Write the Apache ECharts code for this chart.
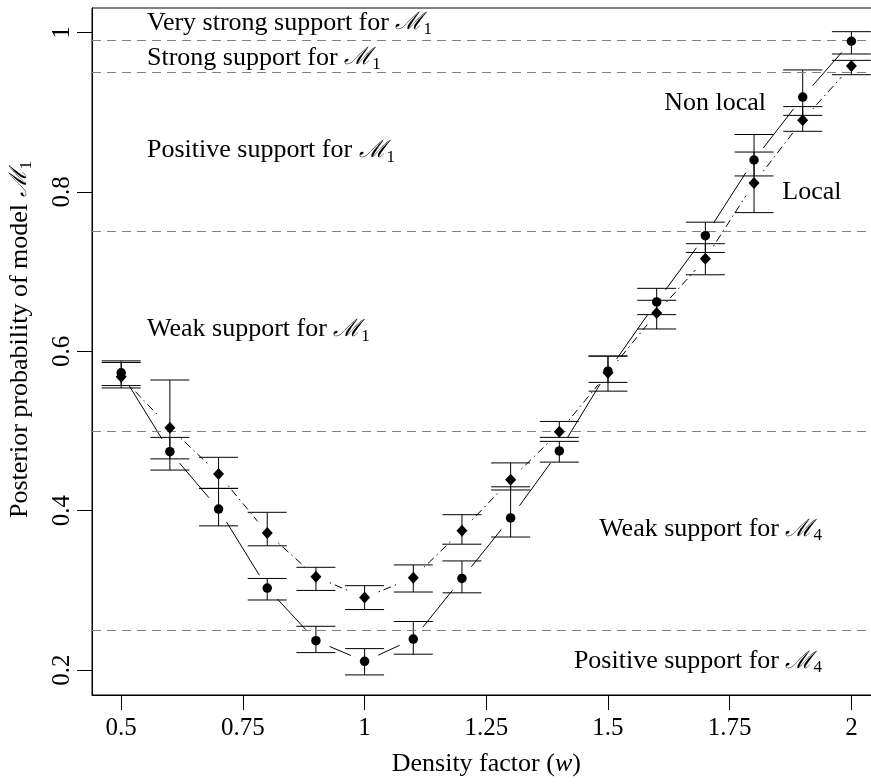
<!DOCTYPE html>
<html><head><meta charset="utf-8">
<script src="https://cdn.jsdelivr.net/npm/echarts@6/dist/echarts.min.js"></script>
<style>html,body{margin:0;padding:0;background:#fff}#c{width:871px;height:784px}</style>
</head><body><div id="c"></div>
<script>
const densityFactor = [0.5,0.6,0.7,0.8,0.9,1.0,1.1,1.2,1.3,1.4,1.5,1.6,1.7,1.8,1.9,2.0];
const nonLocalMean = [0.573,0.474,0.402,0.303,0.237,0.211,0.239,0.315,0.391,0.475,0.575,0.662,0.745,0.840,0.919,0.989];
const nonLocalLow  = [0.557,0.451,0.381,0.288,0.222,0.194,0.220,0.297,0.367,0.461,0.550,0.646,0.724,0.820,0.896,0.973];
const nonLocalHigh = [0.588,0.492,0.428,0.315,0.255,0.227,0.261,0.337,0.430,0.487,0.594,0.679,0.762,0.872,0.953,1.001];
const localMean = [0.568,0.504,0.446,0.372,0.317,0.291,0.316,0.375,0.439,0.499,0.573,0.648,0.716,0.811,0.890,0.958];
const localLow  = [0.554,0.465,0.428,0.356,0.300,0.276,0.298,0.358,0.426,0.492,0.561,0.628,0.696,0.774,0.876,0.947];
const localHigh = [0.586,0.564,0.467,0.398,0.329,0.306,0.332,0.395,0.460,0.512,0.594,0.664,0.735,0.850,0.907,0.965];
const xTickValues = [0.5,0.75,1,1.25,1.5,1.75,2];
const yTickValues = [0.2,0.4,0.6,0.8,1];
const thresholdLevels = [0.25,0.5,0.75,0.95,0.99];
const annotationText  = ['Very strong support for ','Strong support for ','Positive support for ','Weak support for ','Weak support for ','Positive support for ','Non local','Local'];
const annotationModel = ['1','1','1','1','4','4','',''];
const annotationX = [0.553,0.553,0.553,0.553,1.9396,1.9396,1.720,1.919];
const annotationY = [1.0119,0.968,0.8518,0.6272,0.3767,0.2110,0.9116,0.7995];
const annotationAlign = ['left','left','left','left','right','right','center','center'];

const FONT = '"Liberation Serif", "DejaVu Serif", serif';
const FS = 26;
const LH = 30;
const richM = {
  m: {fontFamily: '"DejaVu Serif", serif', fontSize: 24, fontStyle: 'italic', lineHeight: LH, verticalAlign: 'middle', fill: '#000', color: '#000'},
  s: {fontFamily: FONT, fontSize: 17, lineHeight: 17, verticalAlign: 'bottom', fill: '#000', color: '#000'}
};

function errorBars(low, high) {
  return {
    type: 'custom',
    z: 3,
    silent: true,
    data: densityFactor.map((x, i) => [x, low[i], high[i]]),
    encode: {x: 0, y: [1, 2]},
    renderItem: function (params, api) {
      const x = api.value(0);
      const pLo = api.coord([x, api.value(1)]);
      const pHi = api.coord([x, api.value(2)]);
      const hw = 19.5;
      const st = {stroke: '#000', lineWidth: 1};
      return {type: 'group', children: [
        {type: 'line', shape: {x1: pLo[0], y1: pLo[1], x2: pHi[0], y2: pHi[1]}, style: st},
        {type: 'line', shape: {x1: pLo[0] - hw, y1: pLo[1], x2: pLo[0] + hw, y2: pLo[1]}, style: st},
        {type: 'line', shape: {x1: pHi[0] - hw, y1: pHi[1], x2: pHi[0] + hw, y2: pHi[1]}, style: st}
      ]};
    }
  };
}

function gappedLine(mean, dash) {
  const segs = [];
  for (let i = 0; i < densityFactor.length - 1; i++) {
    segs.push([densityFactor[i], mean[i], densityFactor[i + 1], mean[i + 1]]);
  }
  return {
    type: 'custom',
    z: 2,
    silent: true,
    data: segs,
    encode: {x: [0, 2], y: [1, 3]},
    renderItem: function (params, api) {
      const p1 = api.coord([api.value(0), api.value(1)]);
      const p2 = api.coord([api.value(2), api.value(3)]);
      const dx = p2[0] - p1[0], dy = p2[1] - p1[1];
      const d = Math.sqrt(dx * dx + dy * dy);
      const gap = 15;
      if (d <= 2 * gap) return null;
      const ux = dx / d, uy = dy / d;
      return {type: 'line', shape: {
        x1: p1[0] + ux * gap, y1: p1[1] + uy * gap,
        x2: p2[0] - ux * gap, y2: p2[1] - uy * gap
      }, style: {stroke: '#000', lineWidth: 1, lineDash: dash}};
    }
  };
}

const option = {
  animation: false,
  backgroundColor: '#fff',
  grid: {left: 92, top: 8, width: 788.6, height: 687, containLabel: false, outerBoundsMode: 'none',
         show: true, borderColor: '#000', borderWidth: 1, backgroundColor: 'transparent'},
  xAxis: {
    type: 'value', min: 0.44, max: 2.06,
    splitLine: {show: false},
    axisLine: {show: true, onZero: false, lineStyle: {color: '#000', width: 1}},
    axisTick: {show: true, length: 15, customValues: xTickValues, lineStyle: {color: '#000'}},
    axisLabel: {customValues: xTickValues, formatter: v => String(v), margin: 21, color: '#000', fontFamily: FONT, fontSize: 25},
    name: 'Density factor ({i|w})',
    nameLocation: 'middle', nameGap: 54,
    nameTextStyle: {color: '#000', fontFamily: FONT, fontSize: FS, lineHeight: LH,
      rich: {i: {fontFamily: FONT, fontSize: FS, lineHeight: LH, fontStyle: 'italic', color: '#000'}}}
  },
  yAxis: {
    type: 'value', min: 0.1688, max: 1.0307,
    splitLine: {show: false},
    axisLine: {show: true, onZero: false, lineStyle: {color: '#000', width: 1}},
    axisTick: {show: true, length: 15, customValues: yTickValues, lineStyle: {color: '#000'}},
    axisLabel: {customValues: yTickValues, formatter: v => String(v), rotate: 90, margin: 17, color: '#000', fontFamily: FONT, fontSize: 25},
    name: 'Posterior probability of model {m|ℳ}{s|1}',
    nameLocation: 'middle', nameGap: 57,
    nameTextStyle: {color: '#000', fontFamily: FONT, fontSize: FS, lineHeight: LH, padding: [0, 0, 0, 24], rich: richM}
  },
  series: [
    {
      type: 'line', data: [], silent: true,
      markLine: {
        silent: true, symbol: ['none', 'none'], label: {show: false},
        lineStyle: {color: '#808080', width: 1, type: [9, 6]},
        data: thresholdLevels.map(v => ({yAxis: v}))
      }
    },
    errorBars(nonLocalLow, nonLocalHigh),
    errorBars(localLow, localHigh),
    gappedLine(nonLocalMean, null),
    gappedLine(localMean, [1.5, 4, 8, 4]),
    {
      type: 'scatter', z: 5, silent: true, symbol: 'circle', symbolSize: 9.5,
      itemStyle: {color: '#000', opacity: 1},
      data: densityFactor.map((x, i) => [x, nonLocalMean[i]])
    },
    {
      type: 'scatter', z: 5, silent: true, symbol: 'diamond', symbolSize: [11, 12],
      itemStyle: {color: '#000', opacity: 1},
      data: densityFactor.map((x, i) => [x, localMean[i]])
    },
    {
      type: 'custom', z: 6, silent: true, clip: false,
      data: annotationX.map((x, i) => [x, annotationY[i], i]),
      encode: {x: 0, y: 1},
      renderItem: function (params, api) {
        const i = api.value(2);
        const p = api.coord([api.value(0), api.value(1)]);
        const txt = annotationText[i] + (annotationModel[i] ? '{m|ℳ}{s|' + annotationModel[i] + '}' : '');
        return {type: 'text', x: p[0], y: p[1], style: {
          text: txt, fill: '#000', fontFamily: FONT, fontSize: FS, lineHeight: LH,
          align: annotationAlign[i], verticalAlign: 'middle', rich: richM
        }};
      }
    }
  ]
};

const chart = echarts.init(document.getElementById('c'), null, {renderer: 'canvas'});
chart.setOption(option);
</script>
</body></html>
